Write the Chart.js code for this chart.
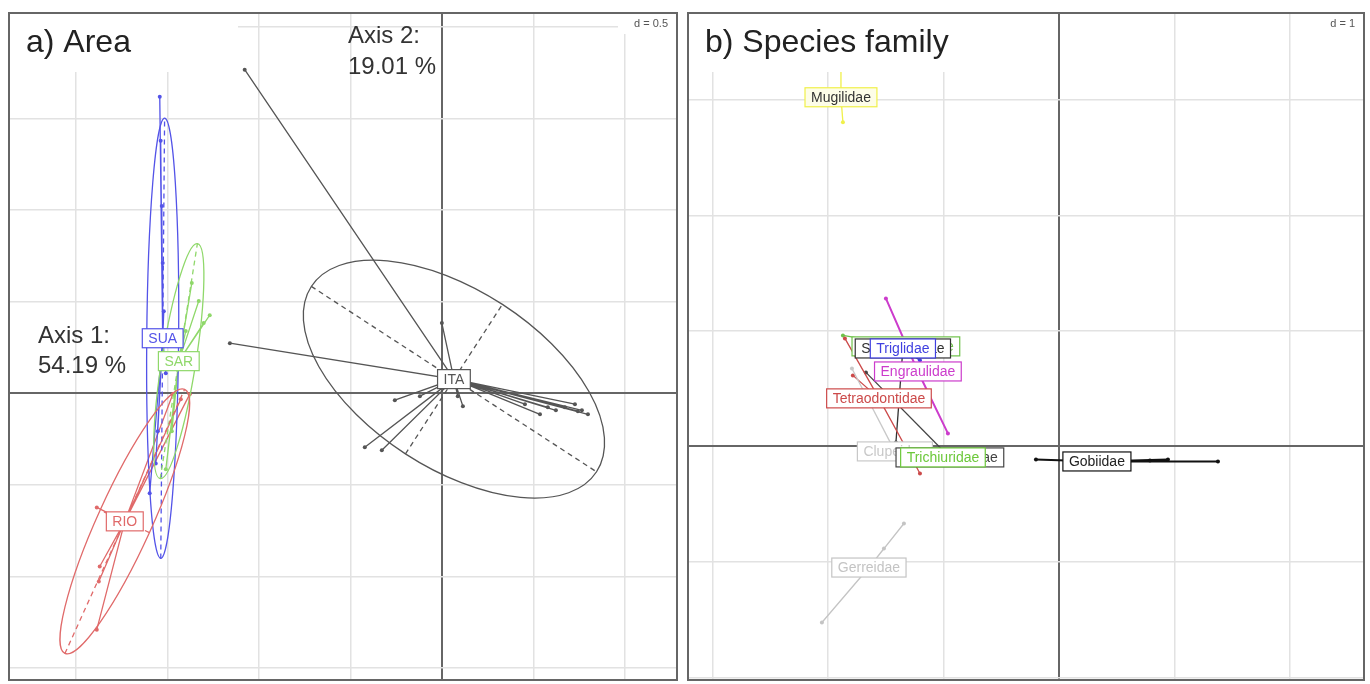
<!DOCTYPE html>
<html>
<head>
<meta charset="utf-8">
<script src="https://cdn.jsdelivr.net/npm/chart.js@4.4.1/dist/chart.umd.min.js"></script>
<style>
  body { margin: 0; background: #fff; width: 1370px; height: 684px; position: relative; overflow: hidden; }
  canvas { position: absolute; }
  #areaChart { left: 6px; top: 10px; }
  #familyChart { left: 685px; top: 10px; }
</style>
</head>
<body>
<canvas id="areaChart" width="674" height="673"></canvas>
<canvas id="familyChart" width="682" height="673"></canvas>
<script>
// a) Area: group centres, ellipses and the sites of each group
const areaGroups = ['SUA', 'SAR', 'RIO', 'ITA'];
const areaCenterX = [-1.525, -1.437, -1.732, 0.066];
const areaCenterY = [0.30, 0.175, -0.699, 0.077];
const areaEllipseA = [1.202, 0.65, 0.792, 0.929];
const areaEllipseB = [0.087, 0.093, 0.148, 0.486];
const areaEllipseAngle = [89.5, 81, 65.6, -33];

const suaX = [-1.541, -1.536, -1.530, -1.525, -1.519, -1.508, -1.552, -1.563, -1.596];
const suaY = [1.617, 1.377, 1.022, 0.710, 0.448, 0.109, -0.208, -0.383, -0.546];
const sarX = [-1.268, -1.301, -1.328, -1.366, -1.399, -1.475, -1.508];
const sarY = [0.426, 0.383, 0.503, 0.601, 0.339, -0.208, -0.415];
const rioX = [-1.885, -1.869, -1.874, -1.885, -1.470, -1.377, -1.426];
const rioY = [-0.623, -0.945, -1.027, -1.290, -0.005, -0.005, -0.033];
const itaX = [-1.077, -1.158, 0.000, -0.257, -0.421, -0.328, -0.120, 0.115, 0.087, 0.454, 0.536, 0.579, 0.623, 0.672, 0.727, 0.765, 0.798, 0.743];
const itaY = [1.765, 0.273, 0.383, -0.038, -0.295, -0.311, -0.016, -0.071, -0.016, -0.060, -0.115, -0.077, -0.093, -0.077, -0.060, -0.093, -0.115, -0.098];

// b) Species family
const families = ['Mugilidae', 'Gerreidae', 'Gobiidae', 'Clupeidae', 'Tetraodontidae', 'Paralichthyidae',
  'Stromateidae', 'Triglidae', 'Engraulidae', 'Centropomidae', 'Trichiuridae'];
const familyCenterX = [-1.887, -1.645, 0.329, -1.420, -1.558, -1.325, -1.351, -1.351, -1.221, -0.944, -1.004];
const familyCenterY = [3.022, -1.048, -0.130, -0.043, 0.416, 0.866, 0.848, 0.848, 0.649, -0.095, -0.095];
const familyPointsX = [
  [-1.887, -1.870, -2.113, -1.654],
  [-2.052, -1.342, -1.515],
  [-0.199, 0.788, 0.944, 1.377],
  [-1.792],
  [-1.784, -1.203, -1.853],
  [-1.870],
  [-1.411],
  [-1.203],
  [-1.498, -0.961],
  [-1.671],
  [-1.333],
];
const familyPointsY = [
  [3.273, 2.805, 3.022, 3.022],
  [-1.524, -0.667, -0.883],
  [-0.113, -0.121, -0.113, -0.130],
  [0.675],
  [0.615, -0.234, 0.935],
  [0.961],
  [0.035],
  [0.745],
  [1.281, 0.113],
  [0.641],
  [-0.009],
];

const areaColors = ['#5353e8', '#8fd86a', '#e06a6a', '#555555'];
const familyColors = ['#f0f04a', '#c4c4c4', '#111111', '#c8c8c8', '#cc4a4a', '#6fc24a',
  '#333333', '#4040e0', '#cc3ccc', '#444444', '#6cc83a'];
const familyTextColors = ['#333333', '#c4c4c4', '#222222', '#c8c8c8', '#cc4a4a', '#6fc24a',
  '#333333', '#4040e0', '#cc3ccc', '#444444', '#6cc83a'];

const FONT = '"Liberation Sans", Arial, Helvetica, sans-serif';

function starDataset(cx, cy, xs, ys, color, width) {
  const data = [];
  xs.forEach((v, i) => { data.push({ x: cx, y: cy }, { x: v, y: ys[i] }); });
  return {
    data,
    showLine: true,
    borderColor: color,
    borderWidth: width,
    pointRadius: c => (c.dataIndex % 2 ? 2 : 0),
    pointBackgroundColor: color,
    pointBorderWidth: 0,
    pointHoverRadius: 0,
  };
}

function drawEllipse(chart, cx, cy, a, b, deg, color) {
  const { ctx, scales: { x, y } } = chart;
  const t = deg * Math.PI / 180;
  const kx = x.getPixelForValue(1) - x.getPixelForValue(0);
  const ky = y.getPixelForValue(0) - y.getPixelForValue(1);
  ctx.save();
  ctx.strokeStyle = color;
  ctx.lineWidth = 1.3;
  ctx.beginPath();
  ctx.ellipse(x.getPixelForValue(cx), y.getPixelForValue(cy), a * kx, b * ky, -t, 0, Math.PI * 2);
  ctx.stroke();
  ctx.setLineDash([5, 4]);
  const seg = (dx, dy) => {
    ctx.beginPath();
    ctx.moveTo(x.getPixelForValue(cx - dx), y.getPixelForValue(cy - dy));
    ctx.lineTo(x.getPixelForValue(cx + dx), y.getPixelForValue(cy + dy));
    ctx.stroke();
  };
  seg(a * Math.cos(t), a * Math.sin(t));
  seg(-b * Math.sin(t), b * Math.cos(t));
  ctx.restore();
}

function drawLabel(chart, vx, vy, text, stroke, color, fill) {
  const { ctx, scales: { x, y } } = chart;
  const px = x.getPixelForValue(vx), py = y.getPixelForValue(vy);
  ctx.save();
  ctx.font = '14px ' + FONT;
  const w = ctx.measureText(text).width + 12, h = 19;
  ctx.fillStyle = fill || '#fff';
  ctx.fillRect(px - w / 2, py - h / 2, w, h);
  ctx.strokeStyle = stroke;
  ctx.lineWidth = 1.2;
  ctx.strokeRect(px - w / 2, py - h / 2, w, h);
  ctx.fillStyle = color;
  ctx.textAlign = 'center';
  ctx.textBaseline = 'middle';
  ctx.fillText(text, px, py + 1);
  ctx.restore();
}

function panelPlugin(opts) {
  return {
    id: 'panel',
    afterDatasetsDraw(chart) {
      opts.marks(chart);
    },
    afterDraw(chart) {
      const { ctx, chartArea: ca } = chart;
      ctx.save();
      // title box hides the grid behind it
      ctx.fillStyle = '#fff';
      ctx.fillRect(ca.left, ca.top, opts.titleBox, 60);
      ctx.fillRect(ca.right - opts.dBox, ca.top, opts.dBox, 22);
      ctx.fillStyle = '#222';
      ctx.font = '32px ' + FONT;
      ctx.textBaseline = 'alphabetic';
      ctx.fillText(opts.title, ca.left + 18, ca.top + 40);
      ctx.fillStyle = '#555';
      ctx.font = '11px ' + FONT;
      ctx.textAlign = 'right';
      ctx.fillText(opts.dText, ca.right - 10, ca.top + 15);
      ctx.textAlign = 'left';
      ctx.fillStyle = '#333';
      ctx.font = '24px ' + FONT;
      (opts.notes || []).forEach(n => ctx.fillText(n.text, ca.left + n.x, ca.top + n.y));
      ctx.strokeStyle = '#666';
      ctx.lineWidth = 2;
      ctx.strokeRect(ca.left + 1, ca.top + 1, ca.right - ca.left - 2, ca.bottom - ca.top - 2);
      ctx.restore();
    },
  };
}

function axisScale(min, max, step) {
  return {
    type: 'linear',
    min, max,
    ticks: { display: false, stepSize: step, includeBounds: false },
    grid: {
      drawTicks: false,
      color: c => (c.tick && c.tick.value === 0 ? '#666' : '#e2e2e2'),
      lineWidth: c => (c.tick && c.tick.value === 0 ? 2 : 1.5),
    },
    border: { display: false },
  };
}

function makeChart(id, datasets, xr, yr, step, plugin) {
  return new Chart(document.getElementById(id), {
    type: 'scatter',
    data: { datasets },
    options: {
      responsive: false,
      animation: false,
      devicePixelRatio: 1,
      layout: { padding: 0 },
      plugins: { legend: { display: false }, tooltip: { enabled: false } },
      scales: { x: axisScale(xr[0], xr[1], step), y: axisScale(yr[0], yr[1], step) },
    },
    plugins: [plugin],
  });
}

// a) Area
const areaPoints = [[suaX, suaY], [sarX, sarY], [rioX, rioY], [itaX, itaY]];
const areaSets = areaGroups.map((g, i) =>
  starDataset(areaCenterX[i], areaCenterY[i], areaPoints[i][0], areaPoints[i][1], areaColors[i], 1.3));

makeChart('areaChart', areaSets, [-2.37, 1.29], [-1.57, 2.08], 0.5, panelPlugin({
  title: 'a) Area',
  titleBox: 230,
  dBox: 60,
  dText: 'd = 0.5',
  notes: [
    { text: 'Axis 2:', x: 340, y: 31 },
    { text: '19.01 %', x: 340, y: 62 },
    { text: 'Axis 1:', x: 30, y: 331 },
    { text: '54.19 %', x: 30, y: 361 },
  ],
  marks(chart) {
    areaGroups.forEach((g, i) => drawEllipse(chart, areaCenterX[i], areaCenterY[i],
      areaEllipseA[i], areaEllipseB[i], areaEllipseAngle[i], areaColors[i]));
    areaGroups.forEach((g, i) => drawLabel(chart, areaCenterX[i], areaCenterY[i], g, areaColors[i], areaColors[i]));
  },
}));

// b) Species family
const familySets = families.map((f, i) =>
  starDataset(familyCenterX[i], familyCenterY[i], familyPointsX[i], familyPointsY[i], familyColors[i],
    f === 'Engraulidae' || f === 'Gobiidae' ? 2 : 1.3));

makeChart('familyChart', familySets, [-3.22, 2.65], [-2.03, 3.76], 1, panelPlugin({
  title: 'b) Species family',
  titleBox: 288,
  dBox: 52,
  dText: 'd = 1',
  marks(chart) {
    families.forEach((f, i) => drawLabel(chart, familyCenterX[i], familyCenterY[i], f,
      familyColors[i], familyTextColors[i], f === 'Mugilidae' ? '#fdfde8' : '#fff'));
  },
}));
</script>
</body>
</html>
